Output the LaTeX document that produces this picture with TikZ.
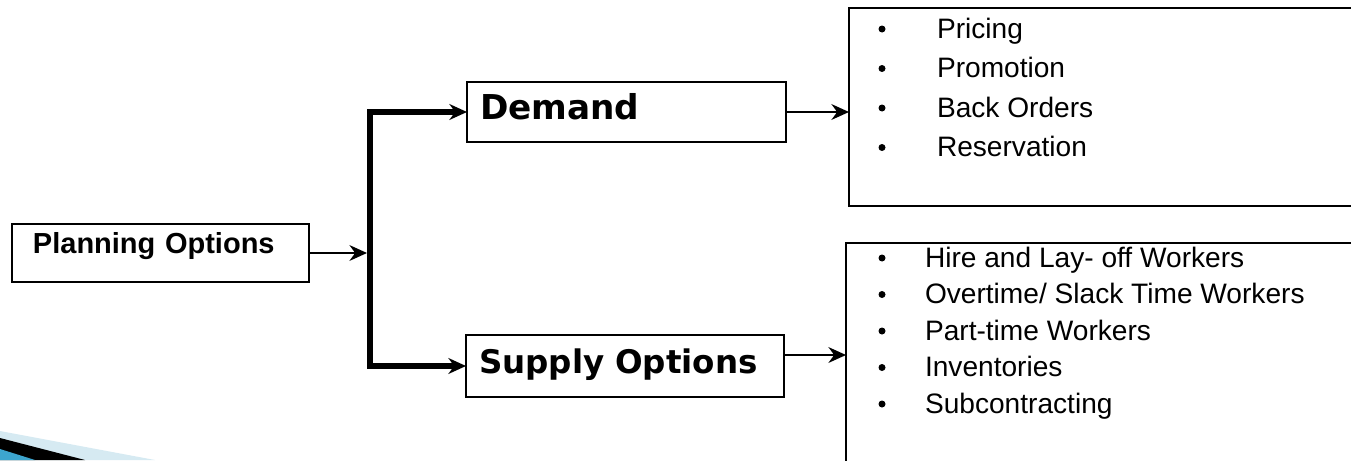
\documentclass[tikz,border=0pt]{standalone}
\usepackage{fontspec}
\setmainfont{Liberation Sans}
\newfontfamily\headfont{DejaVu Sans}
\usetikzlibrary{positioning, arrows.meta}

\definecolor{swooshpale}{HTML}{D6EAF2}
\definecolor{swooshblue}{HTML}{3DA5CE}

\begin{document}
\begin{tikzpicture}
[
    x = 0.02cm, y = -0.02cm,
    every node/.style = {inner sep = 0pt, outer sep = 0pt},
    LinkStyle/.style = {line width = 1.1pt, -{Stealth[length = 10pt, width = 9pt]}},
    BranchStyle/.style = {line width = 3.4pt, -{Stealth[length = 10pt, width = 9pt]}}
  ]

  \tikzset{BoxStyle/.style = {draw, rectangle, line width = 1.5pt,
                              anchor = north west, align = left},
           ListStyle/.style = {draw, rectangle, line width = 1.5pt,
                               anchor = north west},
           ItemStyle/.style = {anchor = base west,
                               font = \fontsize{16}{19}\selectfont},
           DotStyle/.style = {circle, fill, minimum size = 0.14cm}}

  \useasboundingbox (0,0) rectangle (1351,460);

  % corner decoration
  \fill[swooshpale] (0,431) -- (155,460) -- (0,460) -- cycle;
  \fill[black] (0,438) -- (85,460) -- (0,460) -- cycle;
  \fill[swooshblue] (0,449) -- (35,460) -- (0,460) -- cycle;

  \node[BoxStyle, minimum height = 1.16cm, text width = 5.1cm, inner xsep = 0.42cm,
        text height = 0.42cm, text depth = 0.4cm,
        font = \bfseries\fontsize{16.5}{20}\selectfont] (plan) at (12,224) {Planning Options};
  \node[BoxStyle, minimum height = 1.2cm, text width = 5.86cm, inner xsep = 0.26cm,
        text height = 0.5cm, text depth = 0.2cm,
        font = \headfont\bfseries\fontsize{19.5}{23}\selectfont] (demand) at (467,82) {Demand};
  \node[BoxStyle, minimum height = 1.24cm, text width = 5.84cm, inner xsep = 0.26cm,
        text height = 0.48cm, text depth = 0.2cm,
        font = \headfont\bfseries\fontsize{18.5}{22}\selectfont] (supply) at (466,335) {Supply Options};

  \node[ListStyle, minimum width = 11cm, minimum height = 3.96cm] (demandlist) at (849,8) {};
  \node[ListStyle, minimum width = 11cm, minimum height = 5cm] (supplylist) at (846,243) {};

  \foreach \entry [count = \i from 0] in {Pricing, Promotion, Back Orders, Reservation}
  {
    \node[DotStyle] (dd\i) at (882, 29 + 39.5*\i) {};
    \node[ItemStyle] (di\i) at (937, 38 + 39.5*\i) {\entry};
  }
  \foreach \entry [count = \i from 0] in {Hire and Lay- off Workers,
      Overtime/ Slack Time Workers, Part-time Workers, Inventories, Subcontracting}
  {
    \node[DotStyle] (sd\i) at (882, 258 + 36.5*\i) {};
    \node[ItemStyle] (si\i) at (925, 267 + 36.5*\i) {\entry};
  }

  \coordinate (split) at (370,253);
  \draw[BranchStyle] (split) |- (demand.west);
  \draw[BranchStyle] (split) |- (supply.west);
  \draw[LinkStyle, shorten > = 1.7pt] (plan.east) -- (plan.east -| split);
  \draw[LinkStyle] (demand.east) -- (demand.east -| demandlist.west);
  \draw[LinkStyle] ([yshift = 0.22cm]supply.east) -- ([yshift = 0.22cm]supply.east -| supplylist.west);

\end{tikzpicture}
\end{document}
